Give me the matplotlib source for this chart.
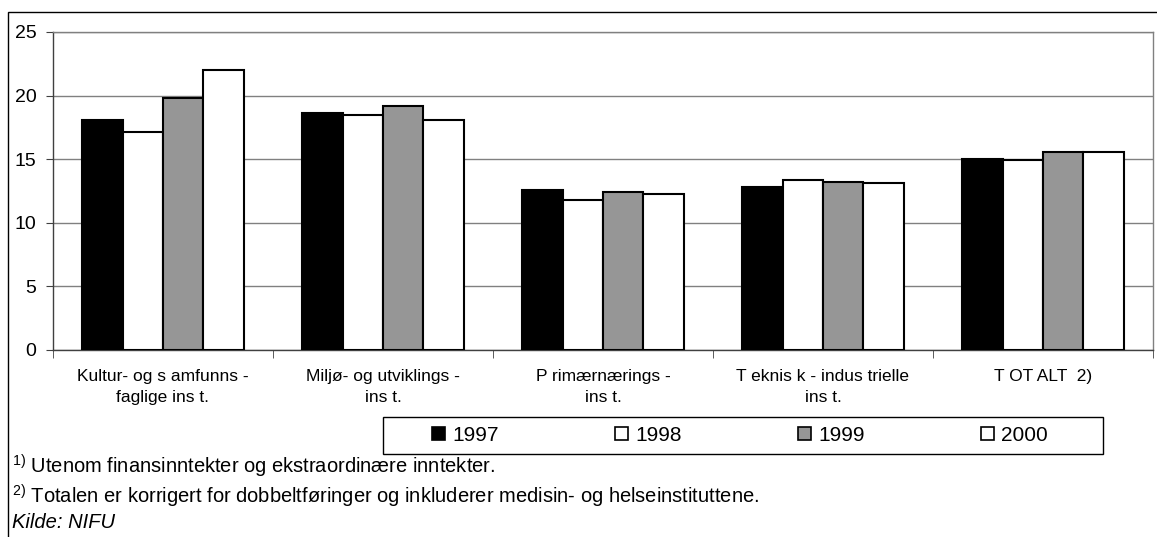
import matplotlib.pyplot as plt
from matplotlib.patches import Patch, Rectangle
import numpy as np

plt.rcParams['font.family'] = ['Liberation Sans', 'DejaVu Sans']
plt.rcParams['mathtext.fontset'] = 'custom'
plt.rcParams['mathtext.rm'] = 'Liberation Sans'

categories = ["Kultur- og s amfunns -\nfaglige ins t.",
              "Miljø- og utviklings -\nins t.",
              "P rimærnærings -\nins t.",
              "T eknis k - indus trielle\nins t.",
              "T OT ALT  2)"]
years = ["1997", "1998", "1999", "2000"]
v1997 = [18.1, 18.6, 12.6, 12.8, 15.0]
v1998 = [17.1, 18.5, 11.8, 13.4, 14.9]
v1999 = [19.8, 19.2, 12.4, 13.2, 15.6]
v2000 = [22.0, 18.1, 12.3, 13.1, 15.6]
series = [v1997, v1998, v1999, v2000]
colors = ["black", "white", "#969696", "white"]

W, H = 1157, 537
fig = plt.figure(figsize=(W / 100, H / 100), dpi=100)
ax = fig.add_axes([53 / W, 1 - 350 / H, 1100 / W, 318 / H])

x = np.arange(len(categories))
bw = 0.184
for i, vals in enumerate(series):
    ax.bar(x + (i - 1.5) * bw, vals, bw, color=colors[i], edgecolor="black",
           linewidth=1.5, zorder=3)

ax.set_xlim(-0.5, len(categories) - 0.5)
ax.set_ylim(0, 25)
ax.set_yticks(range(0, 26, 5))
ax.yaxis.grid(True, color="#808080", linewidth=1, zorder=0)
ax.set_xticks(x)
ax.set_xticklabels(categories, fontsize=12.5, linespacing=1.45)
ax.set_xticks(np.arange(-0.5, len(categories), 1), minor=True)
ax.tick_params(axis="x", which="major", length=0, pad=14)
ax.tick_params(axis="x", which="minor", length=6, color="#404040", direction="out")
ax.tick_params(axis="y", length=5, pad=7, labelsize=14, color="#404040")
for s in ax.spines.values():
    s.set_color("#808080")
    s.set_linewidth(1)
ax.spines["left"].set_color("#404040")
ax.spines["bottom"].set_color("#404040")

# outer frame
fig.add_artist(Rectangle((8 / W, -0.1), 1.2, (H - 12) / H + 0.1,
                         transform=fig.transFigure, fill=False,
                         edgecolor="black", linewidth=1))

# legend box
fig.add_artist(Rectangle((383 / W, 1 - 454 / H), 720 / W, 37 / H,
                         transform=fig.transFigure, fill=False,
                         edgecolor="black", linewidth=1))
handles = [Patch(facecolor=c, edgecolor="black", linewidth=1.2) for c in colors]
fig.legend(handles, years, loc="center", bbox_to_anchor=(740 / W, 1 - 435.5 / H),
           ncol=4, frameon=False, fontsize=15, handlelength=0.6,
           handleheight=0.6, handletextpad=0.35, columnspacing=5.6)

fig.text(12 / W, 1 - 466 / H, r"$^{1)}$ Utenom finansinntekter og ekstraordinære inntekter.",
         fontsize=14.5, va="center")
fig.text(12 / W, 1 - 496 / H,
         r"$^{2)}$ Totalen er korrigert for dobbeltføringer og inkluderer medisin- og helseinstituttene.",
         fontsize=14.5, va="center")
fig.text(12 / W, 1 - 523 / H, "Kilde: NIFU", fontsize=14.5, va="center", style="italic")

fig.savefig("out.png", dpi=100)
